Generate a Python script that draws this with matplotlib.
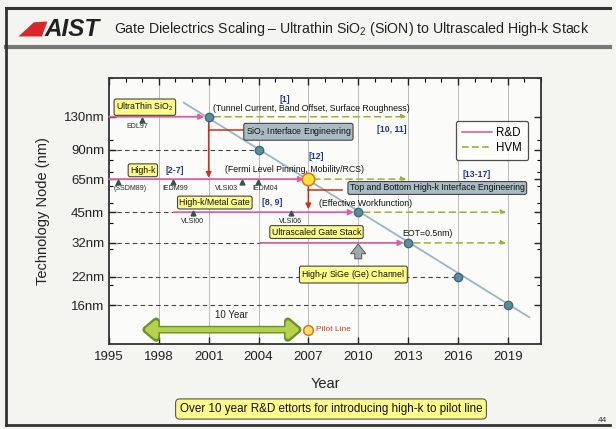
import matplotlib.pyplot as plt
from matplotlib.lines import Line2D
from matplotlib.patches import Polygon
from matplotlib.ticker import FixedLocator, NullFormatter, LogLocator, MultipleLocator

plt.rcParams['font.family'] = ['Liberation Sans', 'DejaVu Sans']
plt.rcParams['mathtext.fontset'] = 'custom'
plt.rcParams['mathtext.rm'] = 'Liberation Sans'
plt.rcParams['mathtext.it'] = 'Liberation Sans:italic'
plt.rcParams['mathtext.bf'] = 'Liberation Sans:bold'

# roadmap: technology node vs. year
years = [2001, 2004, 2007, 2010, 2013, 2016, 2019]
nodes = [130, 90, 65, 45, 32, 22, 16]
node_labels = ['130nm', '90nm', '65nm', '45nm', '32nm', '22nm', '16nm']
year_ticks = [1995, 1998, 2001, 2004, 2007, 2010, 2013, 2016, 2019]

# scaling trend line (end points)
trend_years = [1999.5, 2020.3]
trend_nodes = [152, 14]

# R&D arrows
rd_start = [1995, 1995, 1998.9, 2004.1]
rd_end = [2001, 2007, 2010, 2013]
rd_node = [130, 65, 45, 32]

# HVM arrows
hvm_start = [2001, 2007, 2010, 2013]
hvm_end = [2012.9, 2012.9, 2018.9, 2018.9]
hvm_node = [130, 65, 45, 32]

# dashed guides from the axis
guide_end = [2004, 1998.9, 2004.1, 2016, 2019]
guide_node = [90, 45, 32, 22, 16]

# conference papers
conf_names = ['EDL97', '(SSDM89)', 'IEDM99', 'VLSI03', 'IEDM04', 'VLSI00', 'VLSI06']
conf_mark_year = [1996.98, 1995.54, 1998.84, 2002.99, 2003.95, 2000.05, 2005.93]
conf_mark_node = [125.8, 63, 63, 63, 63, 44.6, 44.6]
conf_text_year = [1996.68, 1996.26, 1998.96, 2002.09, 2004.37, 2000.05, 2005.93]
conf_text_node = [116.4, 58.3, 58.3, 58.3, 58.3, 40.8, 40.8]

# labelled boxes
box_text = ['UltraThin SiO$_2$', 'High-k', 'High-k/Metal Gate', 'Ultrascaled Gate Stack',
            'High-$\\mu$ SiGe (Ge) Channel', 'SiO$_2$ Interface Engineering',
            'Top and Bottom High-k Interface Engineering']
box_year = [1997.16, 1997.04, 2001.37, 2007.49, 2009.71, 2006.4, 2014.76]
box_node = [144.6, 71.7, 50.1, 36.1, 22.5, 110, 58.9]
box_kind = ['y', 'y', 'y', 'y', 'y', 'g', 'g']

# reference numbers
ref_text = ['[1]', '[10, 11]', '[12]', '[2-7]', '[13-17]', '[8, 9]']
ref_year = [2005.57, 2012.0, 2007.49, 1998.96, 2017.1, 2004.85]
ref_node = [157, 112.5, 83.2, 71.7, 68.1, 50.1]

# notes
note_text = ['(Tunnel Current, Band Offset, Surface Roughness)',
             '(Fermi Level Pinning, Mobility/RCS)',
             '(Effective Workfunction)', 'EOT=0.5nm)']
note_year = [2001.25, 2001.97, 2007.67, 2012.66]
note_node = [142, 72, 49.8, 35.7]

pink = '#dc5f9f'
olive = '#9fae35'
red = '#c8321e'

fig = plt.figure(figsize=(6.16, 4.29), dpi=100, facecolor='#f4f4f1')
ax = fig.add_axes([0.1769, 0.1981, 0.7013, 0.6201], facecolor='#fbfbf9')

ax.set_yscale('log')
ax.set_xlim(1995, 2021)
ax.set_ylim(10.4, 200)

# grid
for yr in year_ticks[1:]:
    ax.axvline(yr, color='#b0b0b0', lw=0.6, zorder=0)

# trend line and nodes
ax.plot(trend_years, trend_nodes, color='#9ab6c4', lw=1.3, zorder=2)
ax.plot(years, nodes, 'o', ms=6, mfc='#5e8c9c', mec='#3d6a7a', zorder=5)
ax.plot(years[2], nodes[2], 'o', ms=9, mfc='#ffe040', mec='#e07818', mew=1.2, zorder=6)

for x1, n in zip(guide_end, guide_node):
    ax.plot([1995, x1], [n, n], ls=(0, (4, 3)), color='#444444', lw=0.8, zorder=1)

for x0, x1, n in zip(rd_start, rd_end, rd_node):
    ax.annotate('', xy=(x1, n), xytext=(x0, n),
                arrowprops=dict(arrowstyle='-|>', color=pink, lw=1.3, shrinkA=0, shrinkB=3,
                                mutation_scale=8), zorder=3)

for x0, x1, n in zip(hvm_start, hvm_end, hvm_node):
    ax.annotate('', xy=(x1, n), xytext=(x0, n),
                arrowprops=dict(arrowstyle='-|>', color=olive, lw=1.1, ls=(0, (4, 3)),
                                shrinkA=4, shrinkB=0, mutation_scale=7), zorder=3)

# red branch arrows
ax.annotate('', xy=(2001, 66), xytext=(2001, 130),
            arrowprops=dict(arrowstyle='-|>', color=red, lw=1.1, shrinkA=3, shrinkB=0,
                            mutation_scale=8), zorder=4)
ax.plot([2001, 2003.2], [112.5, 112.5], color=red, lw=1.1, zorder=3)
ax.annotate('', xy=(2007, 46.5), xytext=(2007, 65),
            arrowprops=dict(arrowstyle='-|>', color=red, lw=1.1, shrinkA=4, shrinkB=0,
                            mutation_scale=8), zorder=4)
ax.plot([2007, 2009.05], [57.6, 57.6], color=red, lw=1.1, zorder=3)

# conference markers
ax.plot(conf_mark_year, conf_mark_node, '^', ms=3.5, color='#2d5a4c', zorder=4)
for t, x, n in zip(conf_names, conf_text_year, conf_text_node):
    ax.text(x, n, t, fontsize=5, ha='center', va='center', color='#222222')

for t, x, n, k in zip(box_text, box_year, box_node, box_kind):
    fc = '#fdfb8a' if k == 'y' else '#a9bcc4'
    ax.text(x, n, t, fontsize=6.3, ha='center', va='center', color='#111111', zorder=7,
            bbox=dict(boxstyle='round,pad=0.22', fc=fc, ec='#444444', lw=0.8))

for t, x, n in zip(ref_text, ref_year, ref_node):
    ax.text(x, n, t, fontsize=6.3, ha='center', va='center', color='#22338a',
            fontweight='bold', zorder=7)

for t, x, n in zip(note_text, note_year, note_node):
    ax.text(x, n, t, fontsize=6.3, ha='left', va='center', color='#111111', zorder=7)

# gray up arrow
ax.annotate('', xy=(2010, 31.6), xytext=(2010, 26.8),
            arrowprops=dict(arrowstyle='simple,head_width=1.1,head_length=0.7,tail_width=0.5',
                            fc='#a0a8ac', ec='#555555', lw=0.7, shrinkA=0, shrinkB=0,
                            mutation_scale=10), zorder=4)

# 10 year span to pilot line
ax.annotate('', xy=(1996.9, 12.2), xytext=(2006.7, 12.2),
            arrowprops=dict(arrowstyle='<|-|>,head_width=0.6,head_length=0.7', color='#6f8f28',
                            lw=5.5, shrinkA=0, shrinkB=0, mutation_scale=10), zorder=4)
ax.annotate('', xy=(1997.1, 12.2), xytext=(2006.5, 12.2),
            arrowprops=dict(arrowstyle='<|-|>,head_width=0.5,head_length=0.6', color='#b4d24e',
                            lw=3.5, shrinkA=0, shrinkB=0, mutation_scale=10), zorder=4)
ax.plot(2007, 12.2, 'o', ms=7, mfc='#ffe060', mec='#e07020', mew=1.1, zorder=6)
ax.text(2007.45, 12.2, 'Pilot Line', fontsize=6, color='#d03a20', va='center', ha='left')
ax.text(2002.39, 14.3, '10 Year', fontsize=7, color='#222222', va='center', ha='center')

# legend
handles = [Line2D([], [], color=pink, lw=1.2), Line2D([], [], color=olive, lw=1.2, ls=(0, (4, 2)))]
leg = ax.legend(handles, ['R&D', 'HVM'], loc='upper left', bbox_to_anchor=(0.79, 0.86),
                fontsize=8.3, frameon=True, fancybox=True, handlelength=2.6,
                borderpad=0.5, labelspacing=0.3, handletextpad=0.4)
leg.get_frame().set_edgecolor('#222222')
leg.get_frame().set_linewidth(0.9)

# axes ticks
ax.yaxis.set_major_locator(FixedLocator(nodes))
ax.set_yticklabels(node_labels)
ax.yaxis.set_minor_locator(LogLocator(subs=(1, 2, 3, 4, 5, 6, 7, 8, 9)))
ax.yaxis.set_minor_formatter(NullFormatter())
ax.set_xticks(year_ticks)
ax.xaxis.set_minor_locator(MultipleLocator(1))
ax.tick_params(which='major', direction='in', length=5, width=1, labelsize=9.5,
               top=True, right=True, colors='#222222', labelcolor='#222222')
ax.tick_params(axis='x', which='major', pad=5)
ax.tick_params(which='minor', direction='in', length=3, width=0.8, top=True, right=True,
               bottom=False)
for s in ax.spines.values():
    s.set_linewidth(1.3)
    s.set_color('#333333')
ax.set_xlabel('Year', fontsize=10.5, color='#222222', labelpad=10)
ax.set_ylabel('Technology Node (nm)', fontsize=10.5, color='#222222', labelpad=10)

# bottom note
fig.text(331 / 616, 1 - 409 / 429, 'Over 10 year R&D ettorts for introducing high-k to pilot line',
         fontsize=8.4, ha='center', va='center', color='#111111',
         bbox=dict(boxstyle='round,pad=0.35', fc='#fdfb8a', ec='#555555', lw=0.8))

# slide frame and header
fig.add_artist(Line2D([0.01, 0.99], [1 - 8 / 429] * 2, color='#333333', lw=2.2))
fig.add_artist(Line2D([0.01, 0.99], [1 - 47 / 429] * 2, color='#777777', lw=3))
fig.add_artist(Line2D([0.01, 0.01], [1 - 8 / 429, 1 - 425 / 429], color='#333333', lw=2))
fig.add_artist(Line2D([0.01, 0.99], [1 - 425 / 429] * 2, color='#333333', lw=2))
fig.add_artist(Polygon([[0.030, 0.915], [0.055, 0.948], [0.077, 0.950], [0.068, 0.915]],
                       closed=True, fc='#d8262a', ec='none', transform=fig.transFigure))
fig.text(0.072, 1 - 29.5 / 429, 'AIST', fontsize=17.5, fontweight='bold', fontstyle='italic',
         color='#222222', va='center', ha='left')
fig.text(114 / 616, 1 - 29.5 / 429,
         'Gate Dielectrics Scaling – Ultrathin SiO$_2$ (SiON) to Ultrascaled High-k Stack',
         fontsize=10.2, va='center', ha='left', color='#222222')
fig.text(0.985, 1 - 421 / 429, '44', fontsize=6, ha='right', va='center', color='#333333')

fig.savefig('out.png', dpi=100, facecolor=fig.get_facecolor())
